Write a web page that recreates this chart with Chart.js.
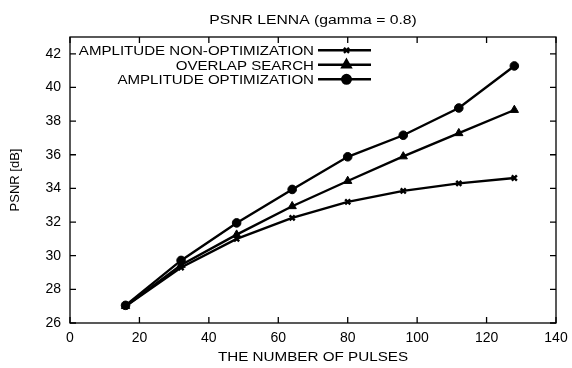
<!DOCTYPE html>
<html>
<head>
<meta charset="utf-8">
<script src="https://cdn.jsdelivr.net/npm/chart.js@4/dist/chart.umd.min.js"></script>
<style>
  html, body { margin: 0; padding: 0; background: #ffffff; }
  #wrap { width: 572px; height: 368px; }
</style>
</head>
<body>
<div id="wrap"><canvas id="chart" width="572" height="368"></canvas></div>
<script>
// number of pulses on the x axis
const pulses = [16, 32, 48, 64, 80, 96, 112, 128];

// PSNR [dB] per series
const nonOptimization = [27.0, 29.3, 31.0, 32.25, 33.2, 33.85, 34.3, 34.62];
const overlapSearch = [27.0, 29.45, 31.25, 32.94, 34.44, 35.9, 37.28, 38.66];
const amplitudeOptimization = [27.05, 29.72, 31.95, 33.94, 35.88, 37.16, 38.78, 41.28];

const seriesNames = ['AMPLITUDE NON-OPTIMIZATION', 'OVERLAP SEARCH', 'AMPLITUDE OPTIMIZATION'];
const xTicks = [0, 20, 40, 60, 80, 100, 120, 140];
const yTicks = [26, 28, 30, 32, 34, 36, 38, 40, 42];

const chartTitle = 'PSNR LENNA (gamma = 0.8)';
const xTitle = 'THE NUMBER OF PULSES';
const yTitle = 'PSNR [dB]';

const FONT = 'Liberation Sans, Arial, Helvetica, sans-serif';

const styles = [
    { pointStyle: 'crossRot', pointRadius: 3.6, pointBorderWidth: 2.4 },
    { pointStyle: 'triangle', pointRadius: 4.8, pointBorderWidth: 1 },
    { pointStyle: 'circle', pointRadius: 4.3, pointBorderWidth: 1 },
];

const seriesValues = [nonOptimization, overlapSearch, amplitudeOptimization];

const datasets = seriesValues.map((values, i) => ({
    label: seriesNames[i],
    data: values.map((v, j) => ({ x: pulses[j], y: v })),
    borderColor: '#000000',
    backgroundColor: '#000000',
    pointBackgroundColor: '#000000',
    pointBorderColor: '#000000',
    borderWidth: 2.4,
    tension: 0,
    ...styles[i],
}));

// the source picture is a little stretched sideways, so text is widened to match
function wideText(ctx, text, x, y, align, sx) {
    ctx.save();
    ctx.translate(x, y);
    ctx.scale(sx, 1);
    ctx.textAlign = align;
    ctx.fillText(text, 0, 0);
    ctx.restore();
}

// gnuplot style frame with inward ticks, titles and a key inside the plot
const framePlugin = {
    id: 'frame',
    afterDatasetsDraw(chart) {
        const { ctx, chartArea: a, scales } = chart;
        const tick = 6;
        ctx.save();
        ctx.strokeStyle = '#000000';
        ctx.lineWidth = 1.3;
        ctx.strokeRect(a.left, a.top, a.right - a.left, a.bottom - a.top);
        ctx.beginPath();
        xTicks.forEach((v) => {
            const px = scales.x.getPixelForValue(v);
            ctx.moveTo(px, a.bottom); ctx.lineTo(px, a.bottom - tick);
            ctx.moveTo(px, a.top); ctx.lineTo(px, a.top + tick);
        });
        yTicks.forEach((v) => {
            const py = scales.y.getPixelForValue(v);
            ctx.moveTo(a.left, py); ctx.lineTo(a.left + tick, py);
            ctx.moveTo(a.right, py); ctx.lineTo(a.right - tick, py);
        });
        ctx.stroke();

        ctx.fillStyle = '#000000';
        ctx.textBaseline = 'alphabetic';
        ctx.font = '13px ' + FONT;
        const midX = (a.left + a.right) / 2;
        wideText(ctx, chartTitle, midX, 24, 'center', 1.21);
        wideText(ctx, xTitle, midX, 361, 'center', 1.17);

        // key
        const textRight = 314;
        const lineFrom = 318;
        const lineTo = 371;
        chart.data.datasets.forEach((ds, i) => {
            const base = 55 + i * 14.5;
            const y = base - 4.7;
            ctx.font = '13px ' + FONT;
            wideText(ctx, ds.label, textRight, base, 'right', 1.16);
            ctx.beginPath();
            ctx.lineWidth = 2.4;
            ctx.moveTo(lineFrom, y);
            ctx.lineTo(lineTo, y);
            ctx.stroke();
            Chart.helpers.drawPoint(ctx, {
                pointStyle: ds.pointStyle,
                radius: ds.pointRadius,
                borderWidth: ds.pointBorderWidth,
                rotation: 0,
            }, (lineFrom + lineTo) / 2 + 2, y);
            ctx.fill();
        });
        ctx.restore();
    },
};

new Chart(document.getElementById('chart'), {
    type: 'line',
    data: { datasets },
    options: {
        responsive: false,
        animation: false,
        devicePixelRatio: 1,
        layout: { padding: { left: 0, right: 16, top: 37, bottom: 0 } },
        plugins: {
            legend: { display: false },
            tooltip: { enabled: false },
            title: { display: false },
        },
        scales: {
            x: {
                type: 'linear',
                min: 0,
                max: 140,
                afterBuildTicks: (scale) => { scale.ticks = xTicks.map((v) => ({ value: v })); },
                afterFit: (scale) => {
                    scale.height = 45;
                    scale.paddingLeft = 0;
                    scale.paddingRight = 0;
                },
                grid: { display: false, drawTicks: false },
                border: { display: false },
                ticks: { color: '#000000', padding: 7, font: { family: FONT, size: 14 }, maxRotation: 0 },
            },
            y: {
                type: 'linear',
                min: 26,
                max: 43,
                afterBuildTicks: (scale) => { scale.ticks = yTicks.map((v) => ({ value: v })); },
                afterFit: (scale) => { scale.width = 70; },
                grid: { display: false, drawTicks: false },
                border: { display: false },
                ticks: { color: '#000000', padding: 9, font: { family: FONT, size: 14 } },
                title: {
                    display: true,
                    text: yTitle,
                    color: '#000000',
                    font: { family: FONT, size: 13, lineHeight: 1.2 },
                    padding: { top: 8, bottom: 0 },
                },
            },
        },
    },
    plugins: [framePlugin],
});
</script>
</body>
</html>
